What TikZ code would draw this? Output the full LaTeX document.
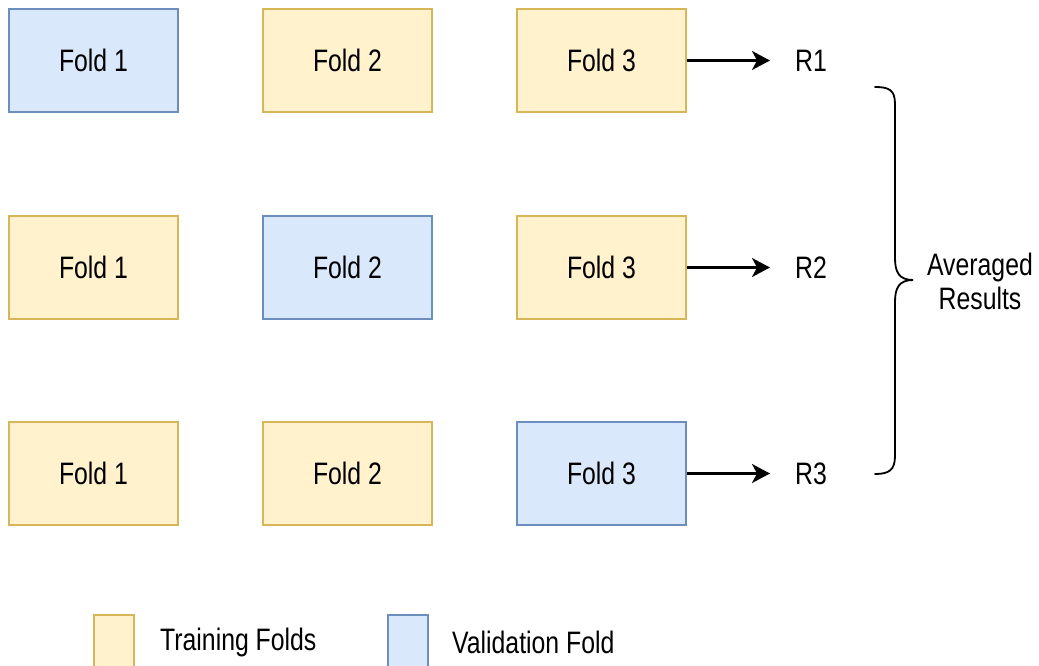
\documentclass[tikz,border=0pt]{standalone}
\usepackage{fontspec}
\setmainfont{Liberation Sans}[FakeStretch=0.8]
\usetikzlibrary{arrows.meta}
\definecolor{trfill}{HTML}{FFF2CC}
\definecolor{trdraw}{HTML}{D6B656}
\definecolor{vafill}{HTML}{DAE8FC}
\definecolor{vadraw}{HTML}{6C8EBF}
\begin{document}
\begin{tikzpicture}[x=1pt,y=-1pt,
  fold/.style={minimum width=169pt,minimum height=103pt,inner sep=0pt,line width=1.8pt,font=\fontsize{31}{36}\selectfont},
  train/.style={fold,fill=trfill,draw=trdraw},
  valid/.style={fold,fill=vafill,draw=vadraw},
  lbl/.style={inner sep=0pt,font=\fontsize{31}{36}\selectfont},
  arr/.style={line width=2.2pt,-{Stealth[length=18pt,width=19pt,inset=5pt]}},
  legbox/.style={minimum width=40pt,minimum height=60pt,inner sep=0pt,line width=1.8pt,anchor=north west}]
\useasboundingbox (0,0) rectangle (1039,666);
\clip (0,0) rectangle (1039,666);
% row 1
\node[valid] (a1) at (93.5,60.5) {Fold 1};
\node[train] (a2) at (347.5,60.5) {Fold 2};
\node[train] (a3) at (601.5,60.5) {Fold 3};
% row 2
\node[train] (b1) at (93.5,267.5) {Fold 1};
\node[valid] (b2) at (347.5,267.5) {Fold 2};
\node[train] (b3) at (601.5,267.5) {Fold 3};
% row 3
\node[train] (c1) at (93.5,473.5) {Fold 1};
\node[train] (c2) at (347.5,473.5) {Fold 2};
\node[valid] (c3) at (601.5,473.5) {Fold 3};
% results
\node[lbl,anchor=west] (r1) at (795,61) {R1};
\node[lbl,anchor=west] (r2) at (795,268) {R2};
\node[lbl,anchor=west] (r3) at (795,474) {R3};
\coordinate (e1) at (770,60.5);
\coordinate (e2) at (770,267.5);
\coordinate (e3) at (770,473.5);
\draw[arr] (a3.east) -- (e1);
\draw[arr] (b3.east) -- (e2);
\draw[arr] (c3.east) -- (e3);
% brace
\draw[line width=1.8pt,line cap=round]
  (875,87) .. controls (889,87) and (895,90) .. (895,104)
  -- (895,258) .. controls (895,272) and (899,280) .. (913,280)
  .. controls (899,280) and (895,288) .. (895,302)
  -- (895,456) .. controls (895,470) and (889,474) .. (875,474);
\node[lbl,align=center,font=\fontsize{31}{34}\selectfont] (avg) at (980,281) {Averaged\\Results};
% legend
\node[legbox,fill=trfill,draw=trdraw] (lt) at (93,614) {};
\node[lbl,anchor=west] (ltt) at (160,642) {Training Folds};
\node[legbox,fill=vafill,draw=vadraw] (lv) at (387,614) {};
\node[lbl,anchor=west] (lvt) at (452,642) {Validation Fold};
\end{tikzpicture}
\end{document}
